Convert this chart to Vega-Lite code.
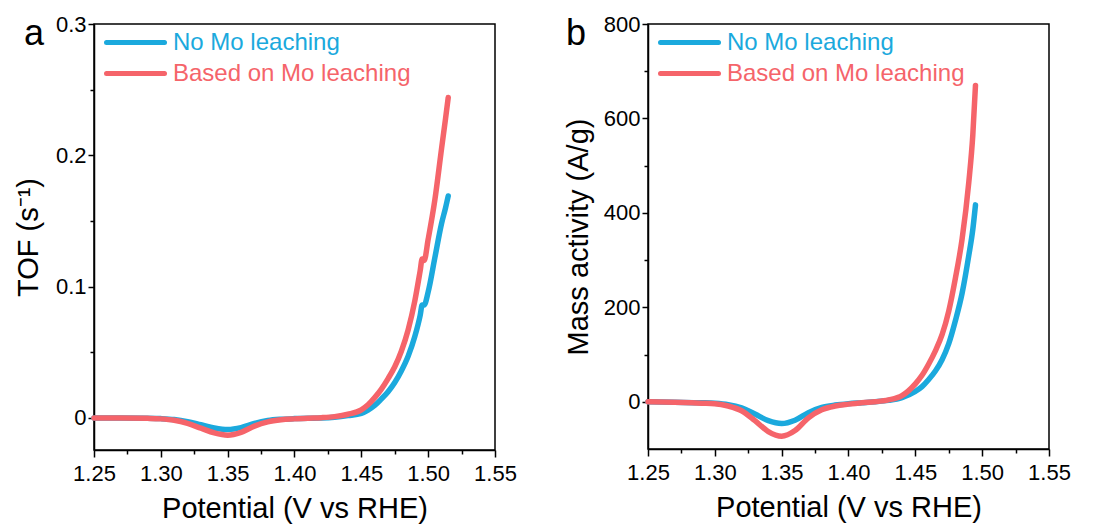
{
  "$schema": "https://vega.github.io/schema/vega-lite/v6.json",
  "background": "white",
  "padding": {"left": 13, "top": 12, "right": 0, "bottom": 0},
  "spacing": 45,
  "config": {
    "font": "Liberation Sans",
    "view": {"stroke": "black", "strokeWidth": 1.5},
    "axis": {"domainColor": "black", "domainWidth": 1.5, "tickColor": "black", "tickWidth": 1.5, "labelColor": "black", "titleColor": "black", "labelFontSize": 22, "titleFontSize": 29, "titleFontWeight": "normal", "grid": false, "labelFont": "Liberation Sans", "titleFont": "Liberation Sans", "labelFlush": false, "labelOverlap": false},
    "axisX": {"labelPadding": 6, "titlePadding": 10},
    "axisY": {"labelPadding": 2},
    "title": {"fontSize": 36, "fontWeight": "normal", "font": "Liberation Sans", "color": "black"},
    "legend": {"labelFont": "Liberation Sans", "labelLimit": 500}
  },
  "datasets": {
    "tof": [
      {"series": "No Mo leaching", "potential": 1.25, "value": 0},
      {"series": "No Mo leaching", "potential": 1.27, "value": 0},
      {"series": "No Mo leaching", "potential": 1.29, "value": -0.0002},
      {"series": "No Mo leaching", "potential": 1.30, "value": -0.0005},
      {"series": "No Mo leaching", "potential": 1.31, "value": -0.0012},
      {"series": "No Mo leaching", "potential": 1.32, "value": -0.0028},
      {"series": "No Mo leaching", "potential": 1.33, "value": -0.0052},
      {"series": "No Mo leaching", "potential": 1.34, "value": -0.0076},
      {"series": "No Mo leaching", "potential": 1.35, "value": -0.0088},
      {"series": "No Mo leaching", "potential": 1.36, "value": -0.0074},
      {"series": "No Mo leaching", "potential": 1.37, "value": -0.0042},
      {"series": "No Mo leaching", "potential": 1.38, "value": -0.002},
      {"series": "No Mo leaching", "potential": 1.39, "value": -0.001},
      {"series": "No Mo leaching", "potential": 1.40, "value": -0.0005},
      {"series": "No Mo leaching", "potential": 1.41, "value": -0.0002},
      {"series": "No Mo leaching", "potential": 1.42, "value": 0},
      {"series": "No Mo leaching", "potential": 1.43, "value": 0.0006},
      {"series": "No Mo leaching", "potential": 1.44, "value": 0.0018},
      {"series": "No Mo leaching", "potential": 1.45, "value": 0.0035},
      {"series": "No Mo leaching", "potential": 1.455, "value": 0.006},
      {"series": "No Mo leaching", "potential": 1.46, "value": 0.0095},
      {"series": "No Mo leaching", "potential": 1.465, "value": 0.0145},
      {"series": "No Mo leaching", "potential": 1.47, "value": 0.02},
      {"series": "No Mo leaching", "potential": 1.475, "value": 0.027},
      {"series": "No Mo leaching", "potential": 1.48, "value": 0.036},
      {"series": "No Mo leaching", "potential": 1.485, "value": 0.047},
      {"series": "No Mo leaching", "potential": 1.49, "value": 0.062},
      {"series": "No Mo leaching", "potential": 1.494, "value": 0.078},
      {"series": "No Mo leaching", "potential": 1.4955, "value": 0.086},
      {"series": "No Mo leaching", "potential": 1.497, "value": 0.086},
      {"series": "No Mo leaching", "potential": 1.50, "value": 0.096},
      {"series": "No Mo leaching", "potential": 1.505, "value": 0.122},
      {"series": "No Mo leaching", "potential": 1.51, "value": 0.148},
      {"series": "No Mo leaching", "potential": 1.513, "value": 0.16},
      {"series": "No Mo leaching", "potential": 1.515, "value": 0.169},
      {"series": "Based on Mo leaching", "potential": 1.25, "value": 0},
      {"series": "Based on Mo leaching", "potential": 1.27, "value": 0},
      {"series": "Based on Mo leaching", "potential": 1.29, "value": -0.0003},
      {"series": "Based on Mo leaching", "potential": 1.30, "value": -0.0007},
      {"series": "Based on Mo leaching", "potential": 1.31, "value": -0.0018},
      {"series": "Based on Mo leaching", "potential": 1.32, "value": -0.0042},
      {"series": "Based on Mo leaching", "potential": 1.33, "value": -0.0078},
      {"series": "Based on Mo leaching", "potential": 1.34, "value": -0.0114},
      {"series": "Based on Mo leaching", "potential": 1.35, "value": -0.0131},
      {"series": "Based on Mo leaching", "potential": 1.36, "value": -0.011},
      {"series": "Based on Mo leaching", "potential": 1.37, "value": -0.0062},
      {"series": "Based on Mo leaching", "potential": 1.38, "value": -0.003},
      {"series": "Based on Mo leaching", "potential": 1.39, "value": -0.0014},
      {"series": "Based on Mo leaching", "potential": 1.40, "value": -0.0007},
      {"series": "Based on Mo leaching", "potential": 1.41, "value": -0.0002},
      {"series": "Based on Mo leaching", "potential": 1.42, "value": 0.0002},
      {"series": "Based on Mo leaching", "potential": 1.43, "value": 0.001},
      {"series": "Based on Mo leaching", "potential": 1.44, "value": 0.0028},
      {"series": "Based on Mo leaching", "potential": 1.45, "value": 0.0062},
      {"series": "Based on Mo leaching", "potential": 1.455, "value": 0.01},
      {"series": "Based on Mo leaching", "potential": 1.46, "value": 0.0155},
      {"series": "Based on Mo leaching", "potential": 1.465, "value": 0.022},
      {"series": "Based on Mo leaching", "potential": 1.47, "value": 0.03},
      {"series": "Based on Mo leaching", "potential": 1.475, "value": 0.039},
      {"series": "Based on Mo leaching", "potential": 1.48, "value": 0.051},
      {"series": "Based on Mo leaching", "potential": 1.485, "value": 0.067},
      {"series": "Based on Mo leaching", "potential": 1.49, "value": 0.089},
      {"series": "Based on Mo leaching", "potential": 1.494, "value": 0.112},
      {"series": "Based on Mo leaching", "potential": 1.4955, "value": 0.121},
      {"series": "Based on Mo leaching", "potential": 1.497, "value": 0.12},
      {"series": "Based on Mo leaching", "potential": 1.50, "value": 0.136},
      {"series": "Based on Mo leaching", "potential": 1.505, "value": 0.166},
      {"series": "Based on Mo leaching", "potential": 1.51, "value": 0.205},
      {"series": "Based on Mo leaching", "potential": 1.513, "value": 0.228},
      {"series": "Based on Mo leaching", "potential": 1.515, "value": 0.244}
    ],
    "mass": [
      {"series": "No Mo leaching", "potential": 1.25, "value": 0},
      {"series": "No Mo leaching", "potential": 1.27, "value": -1},
      {"series": "No Mo leaching", "potential": 1.29, "value": -2},
      {"series": "No Mo leaching", "potential": 1.30, "value": -3},
      {"series": "No Mo leaching", "potential": 1.31, "value": -6},
      {"series": "No Mo leaching", "potential": 1.32, "value": -13},
      {"series": "No Mo leaching", "potential": 1.33, "value": -26},
      {"series": "No Mo leaching", "potential": 1.34, "value": -40},
      {"series": "No Mo leaching", "potential": 1.35, "value": -46},
      {"series": "No Mo leaching", "potential": 1.36, "value": -39},
      {"series": "No Mo leaching", "potential": 1.37, "value": -23},
      {"series": "No Mo leaching", "potential": 1.38, "value": -12},
      {"series": "No Mo leaching", "potential": 1.39, "value": -7},
      {"series": "No Mo leaching", "potential": 1.40, "value": -4},
      {"series": "No Mo leaching", "potential": 1.41, "value": -2},
      {"series": "No Mo leaching", "potential": 1.42, "value": 0},
      {"series": "No Mo leaching", "potential": 1.43, "value": 3},
      {"series": "No Mo leaching", "potential": 1.44, "value": 9},
      {"series": "No Mo leaching", "potential": 1.45, "value": 22},
      {"series": "No Mo leaching", "potential": 1.455, "value": 32},
      {"series": "No Mo leaching", "potential": 1.46, "value": 47},
      {"series": "No Mo leaching", "potential": 1.465, "value": 65},
      {"series": "No Mo leaching", "potential": 1.47, "value": 89},
      {"series": "No Mo leaching", "potential": 1.475, "value": 123},
      {"series": "No Mo leaching", "potential": 1.48, "value": 172},
      {"series": "No Mo leaching", "potential": 1.485, "value": 230},
      {"series": "No Mo leaching", "potential": 1.49, "value": 310},
      {"series": "No Mo leaching", "potential": 1.493, "value": 365},
      {"series": "No Mo leaching", "potential": 1.495, "value": 417},
      {"series": "Based on Mo leaching", "potential": 1.25, "value": 0},
      {"series": "Based on Mo leaching", "potential": 1.27, "value": -1},
      {"series": "Based on Mo leaching", "potential": 1.29, "value": -3},
      {"series": "Based on Mo leaching", "potential": 1.30, "value": -4},
      {"series": "Based on Mo leaching", "potential": 1.31, "value": -9},
      {"series": "Based on Mo leaching", "potential": 1.32, "value": -19},
      {"series": "Based on Mo leaching", "potential": 1.33, "value": -40},
      {"series": "Based on Mo leaching", "potential": 1.34, "value": -63},
      {"series": "Based on Mo leaching", "potential": 1.35, "value": -73},
      {"series": "Based on Mo leaching", "potential": 1.36, "value": -61},
      {"series": "Based on Mo leaching", "potential": 1.37, "value": -34},
      {"series": "Based on Mo leaching", "potential": 1.38, "value": -17},
      {"series": "Based on Mo leaching", "potential": 1.39, "value": -9},
      {"series": "Based on Mo leaching", "potential": 1.40, "value": -5},
      {"series": "Based on Mo leaching", "potential": 1.41, "value": -2},
      {"series": "Based on Mo leaching", "potential": 1.42, "value": 0},
      {"series": "Based on Mo leaching", "potential": 1.43, "value": 4},
      {"series": "Based on Mo leaching", "potential": 1.44, "value": 13},
      {"series": "Based on Mo leaching", "potential": 1.45, "value": 38},
      {"series": "Based on Mo leaching", "potential": 1.455, "value": 56},
      {"series": "Based on Mo leaching", "potential": 1.46, "value": 80},
      {"series": "Based on Mo leaching", "potential": 1.465, "value": 108},
      {"series": "Based on Mo leaching", "potential": 1.47, "value": 142},
      {"series": "Based on Mo leaching", "potential": 1.475, "value": 192},
      {"series": "Based on Mo leaching", "potential": 1.48, "value": 262},
      {"series": "Based on Mo leaching", "potential": 1.485, "value": 345},
      {"series": "Based on Mo leaching", "potential": 1.49, "value": 465},
      {"series": "Based on Mo leaching", "potential": 1.493, "value": 565},
      {"series": "Based on Mo leaching", "potential": 1.495, "value": 670}
    ]
  },
  "hconcat": [
    {
      "width": 401,
      "height": 426,
      "title": {"text": "a", "anchor": "start", "frame": "group", "orient": "top", "offset": -40, "dx": -70},
      "data": {"name": "tof"},
      "mark": {"type": "line", "strokeWidth": 5.5, "interpolate": "monotone", "strokeCap": "round", "strokeJoin": "round"},
      "encoding": {
        "x": {
          "field": "potential", "type": "quantitative",
          "scale": {"domain": [1.25, 1.55], "nice": false, "zero": false},
          "axis": {
            "title": "Potential (V vs RHE)",
            "values": [1.25, 1.275, 1.3, 1.325, 1.35, 1.375, 1.4, 1.425, 1.45, 1.475, 1.5, 1.525, 1.55],
            "labelExpr": "abs(datum.value*20 - round(datum.value*20)) < 0.001 ? format(datum.value, '.2f') : ''",
            "tickSize": {"condition": {"test": "abs(datum.value*20 - round(datum.value*20)) < 0.001", "value": 7}, "value": 4}
          }
        },
        "y": {
          "field": "value", "type": "quantitative",
          "scale": {"domain": [-0.0244, 0.3], "nice": false, "zero": false},
          "axis": {
            "title": "TOF (s⁻¹)",
            "values": [0, 0.05, 0.1, 0.15, 0.2, 0.25, 0.3],
            "labelExpr": "abs(datum.value*10 - round(datum.value*10)) < 0.001 ? (datum.value == 0 ? '0' : format(datum.value, '.1f')) : ''",
            "tickSize": {"condition": {"test": "abs(datum.value*10 - round(datum.value*10)) < 0.001", "value": 6}, "value": 4},
            "titlePadding": 12
          }
        },
        "color": {
          "field": "series", "type": "nominal",
          "sort": ["No Mo leaching", "Based on Mo leaching"],
          "scale": {"domain": ["No Mo leaching", "Based on Mo leaching"], "range": ["#1ba9dd", "#f5646a"]},
          "legend": {
            "orient": "none", "legendX": 10, "legendY": 3, "title": null,
            "symbolType": "stroke", "symbolSize": 3364, "symbolStrokeWidth": 5,
            "labelFontSize": 24, "labelOffset": 6, "clipHeight": 31, "rowPadding": 0,
            "encode": {
              "labels": {"update": {"fill": {"signal": "datum.value === 'No Mo leaching' ? '#1ba9dd' : '#f5646a'"}}},
              "symbols": {"update": {"strokeCap": {"value": "round"}}}
            }
          }
        }
      }
    },
    {
      "width": 401,
      "height": 425,
      "title": {"text": "b", "anchor": "start", "frame": "group", "orient": "top", "offset": -40, "dx": -82},
      "data": {"name": "mass"},
      "mark": {"type": "line", "strokeWidth": 5.5, "interpolate": "monotone", "strokeCap": "round", "strokeJoin": "round"},
      "encoding": {
        "x": {
          "field": "potential", "type": "quantitative",
          "scale": {"domain": [1.25, 1.55], "nice": false, "zero": false},
          "axis": {
            "title": "Potential (V vs RHE)",
            "values": [1.25, 1.275, 1.3, 1.325, 1.35, 1.375, 1.4, 1.425, 1.45, 1.475, 1.5, 1.525, 1.55],
            "labelExpr": "abs(datum.value*20 - round(datum.value*20)) < 0.001 ? format(datum.value, '.2f') : ''",
            "tickSize": {"condition": {"test": "abs(datum.value*20 - round(datum.value*20)) < 0.001", "value": 7}, "value": 4}
          }
        },
        "y": {
          "field": "value", "type": "quantitative",
          "scale": {"domain": [-100, 800], "nice": false, "zero": false},
          "axis": {
            "title": "Mass activity (A/g)",
            "values": [0, 100, 200, 300, 400, 500, 600, 700, 800],
            "labelExpr": "datum.value % 200 == 0 ? format(datum.value, 'd') : ''",
            "tickSize": {"condition": {"test": "datum.value % 200 == 0", "value": 6}, "value": 4},
            "titlePadding": 10
          }
        },
        "color": {
          "field": "series", "type": "nominal",
          "sort": ["No Mo leaching", "Based on Mo leaching"],
          "scale": {"domain": ["No Mo leaching", "Based on Mo leaching"], "range": ["#1ba9dd", "#f5646a"]},
          "legend": {
            "orient": "none", "legendX": 10, "legendY": 3, "title": null,
            "symbolType": "stroke", "symbolSize": 3364, "symbolStrokeWidth": 5,
            "labelFontSize": 24, "labelOffset": 6, "clipHeight": 31, "rowPadding": 0,
            "encode": {
              "labels": {"update": {"fill": {"signal": "datum.value === 'No Mo leaching' ? '#1ba9dd' : '#f5646a'"}}},
              "symbols": {"update": {"strokeCap": {"value": "round"}}}
            }
          }
        }
      }
    }
  ],
  "resolve": {"scale": {"color": "independent", "y": "independent", "x": "independent"}}
}
